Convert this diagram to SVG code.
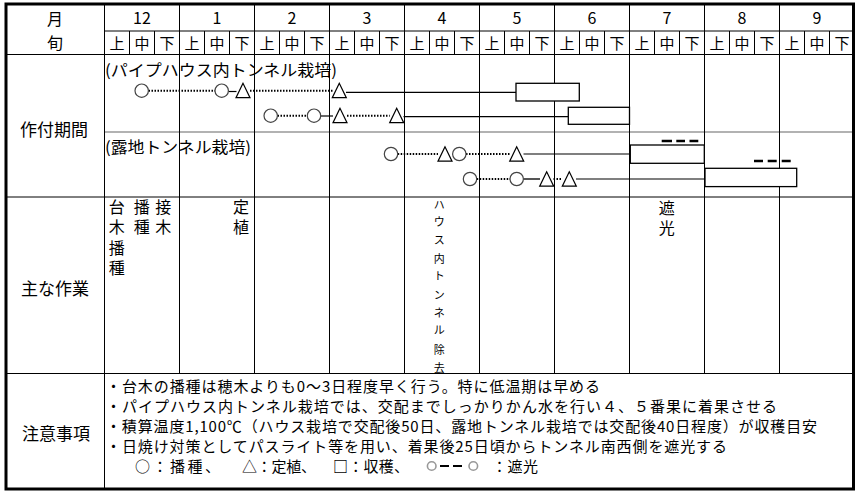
<svg xmlns="http://www.w3.org/2000/svg" width="863" height="498" viewBox="0 0 863 498">
<style>
text{font-family:"Noto Sans CJK JP","Noto Sans CJK SC",sans-serif;fill:#000}
.g{stroke:#000;stroke-width:1;fill:none}
.gray{stroke:#999;stroke-width:1.5;fill:none}
.ln{stroke:#000;stroke-width:1.2;fill:none}
.dot{stroke:#000;stroke-width:2;stroke-dasharray:1.5 1.5;fill:none}
.thk{stroke:#555;stroke-width:2;fill:none}
.cir{stroke:#444;stroke-width:1.2;fill:#fff}
.tri{stroke:#000;stroke-width:1.2;fill:#fff;stroke-linejoin:miter}
.box{stroke:#000;stroke-width:1.3;fill:#fff}
.shade{stroke:#000;stroke-width:2.5}
.hd{font-size:16px}
.dk{font-size:15px}
.lab{font-size:17px}
.wk{font-size:16px}
.sm{font-size:11px}
.nt{font-size:15px}
</style>

<g id="grid">
<rect x="6" y="4" width="847.5" height="485" fill="#fff" stroke="none"/>
<line class="g" x1="104.5" y1="31" x2="854" y2="31"/>
<line class="g" x1="6" y1="54.5" x2="854" y2="54.5"/>
<line class="gray" x1="104.5" y1="132" x2="854" y2="132"/>
<line class="g" x1="6" y1="197" x2="854" y2="197"/>
<line class="g" x1="6" y1="373.5" x2="854" y2="373.5"/>
<line class="g" x1="104.5" y1="4" x2="104.5" y2="489"/>
<path class="g" d="M179.5 4V373.5M254.5 4V373.5M329.5 4V373.5M404.5 4V373.5M479.5 4V373.5M554.5 4V373.5M629.5 4V373.5M704.5 4V373.5M779.5 4V373.5"/>
<path class="g" d="M129.5 31V54.5M154.5 31V54.5M204.5 31V54.5M229.5 31V54.5M279.5 31V54.5M304.5 31V54.5M354.5 31V54.5M379.5 31V54.5M429.5 31V54.5M454.5 31V54.5M504.5 31V54.5M529.5 31V54.5M579.5 31V54.5M604.5 31V54.5M654.5 31V54.5M679.5 31V54.5M729.5 31V54.5M754.5 31V54.5M804.5 31V54.5M829.5 31V54.5"/>
<rect x="6" y="4" width="847.5" height="485" fill="none" stroke="#000" stroke-width="3"/>
</g>

<g id="header">
<text class="hd" x="55" y="25" text-anchor="middle">月</text>
<text class="hd" x="55" y="48.5" text-anchor="middle">旬</text>
<text class="hd" text-anchor="middle" y="24">
<tspan x="142">12</tspan><tspan x="217">1</tspan><tspan x="292">2</tspan><tspan x="367">3</tspan><tspan x="442">4</tspan><tspan x="517">5</tspan><tspan x="592">6</tspan><tspan x="667">7</tspan><tspan x="742">8</tspan><tspan x="817">9</tspan>
</text>
<text class="dk" text-anchor="middle" y="48.7" x="117 142 167 192 217 242 267 292 317 342 367 392 417 442 467 492 517 542 567 592 617 642 667 692 717 742 767 792 817 842">上中下上中下上中下上中下上中下上中下上中下上中下上中下上中下</text>
</g>

<g id="labels">
<text class="lab" x="54" y="135.5" text-anchor="middle">作付期間</text>
<text class="lab" x="55" y="295" text-anchor="middle">主な作業</text>
<text class="lab" x="56" y="439.5" text-anchor="middle">注意事項</text>
</g>

<g id="section-titles">
<text class="wk" x="105" y="76" textLength="232" lengthAdjust="spacingAndGlyphs">(パイプハウス内トンネル栽培)</text>
<text class="wk" x="105" y="152.7" textLength="146" lengthAdjust="spacingAndGlyphs">(露地トンネル栽培)</text>
</g>

<g id="connectors">
<line class="dot" x1="148.5" y1="90.7" x2="215" y2="90.7"/>
<line class="ln" x1="228.4" y1="91.5" x2="236.5" y2="91.5"/>
<line class="dot" x1="250" y1="90.7" x2="332.5" y2="90.7"/>
<line class="ln" x1="346" y1="92.3" x2="516" y2="92.3"/>

<line class="dot" x1="277.5" y1="115.7" x2="307.3" y2="115.7"/>
<line class="ln" x1="320.7" y1="116" x2="333" y2="116"/>
<line class="dot" x1="347" y1="115.7" x2="389.7" y2="115.7"/>
<line class="ln" x1="403.5" y1="116.7" x2="568" y2="116.7"/>

<line class="dot" x1="397.7" y1="154" x2="438" y2="154"/>
<line class="dot" x1="466" y1="154" x2="509.7" y2="154"/>
<line class="ln" x1="523.5" y1="154" x2="630" y2="154"/>

<line class="dot" x1="476.7" y1="179" x2="510" y2="179"/>
<line class="thk" x1="523.4" y1="179" x2="540" y2="179"/>
<line class="dot" x1="553.5" y1="179" x2="562.3" y2="179"/>
<line class="ln" x1="576" y1="179" x2="705" y2="179"/>
</g>

<g id="row-house-1">
<circle class="cir" cx="141.7" cy="90.7" r="6.7"/>
<circle class="cir" cx="221.7" cy="90.7" r="6.7"/>
<polygon class="tri" points="243,83.3 236,97.7 250,97.7"/>
<polygon class="tri" points="339.3,83.3 332.3,97.7 346.3,97.7"/>
<rect class="box" x="516" y="83.3" width="63.3" height="17.7"/>
</g>

<g id="row-house-2">
<circle class="cir" cx="270.7" cy="115.7" r="6.7"/>
<circle class="cir" cx="314" cy="115.7" r="6.7"/>
<polygon class="tri" points="340,108.3 333,122.7 347,122.7"/>
<polygon class="tri" points="396.7,108.3 389.7,122.7 403.7,122.7"/>
<rect class="box" x="568.3" y="107.3" width="61.2" height="17"/>
</g>

<g id="row-field-1">
<circle class="cir" cx="391" cy="154" r="6.7"/>
<polygon class="tri" points="445,146.8 438,161.2 452,161.2"/>
<circle class="cir" cx="459.3" cy="154" r="6.7"/>
<polygon class="tri" points="516.7,146.8 509.7,161.2 523.7,161.2"/>
<rect class="box" x="630.3" y="145" width="74" height="18.3"/>
<path class="shade" d="M661.7 141H672M676.3 141H685M689.5 141H698.3"/>
</g>

<g id="row-field-2">
<circle class="cir" cx="470" cy="179" r="6.7"/>
<circle class="cir" cx="516.7" cy="179" r="6.7"/>
<polygon class="tri" points="546.7,171.8 539.7,186.2 553.7,186.2"/>
<polygon class="tri" points="569.3,171.8 562.3,186.2 576.3,186.2"/>
<rect class="box" x="705" y="168.3" width="91.7" height="18.3"/>
<path class="shade" d="M754 161H763M767.7 161H776.7M781.7 161H790.7"/>
</g>

<g id="main-work">
<text class="wk" text-anchor="middle" x="116.7 116.7 116.7 116.7" y="213 233 253.5 274">台木播種</text>
<text class="wk" text-anchor="middle" x="141.7 141.7" y="213 233">播種</text>
<text class="wk" text-anchor="middle" x="163.3 163.3" y="213 233">接木</text>
<text class="wk" text-anchor="middle" x="241 241" y="213 233">定植</text>
<text class="sm" text-anchor="middle" x="439.3 439.3 439.3 439.3 439.3 439.3 439.3 439.3 439.3 439.3" y="209.2 225.9 244.2 262.5 280.2 298.5 316.9 334.2 353.5 372.3">ハウス内トンネル除去</text>
<text class="wk" text-anchor="middle" x="666.7 666.7" y="213.5 233.5">遮光</text>
</g>

<g id="notes">
<text class="nt" x="106" y="391.5" textLength="494" lengthAdjust="spacing">・台木の播種は穂木よりも0～3日程度早く行う。特に低温期は早める</text>
<text class="nt" x="106" y="411.5" textLength="671" lengthAdjust="spacing">・パイプハウス内トンネル栽培では、交配までしっかりかん水を行い４、５番果に着果させる</text>
<text class="nt" x="106" y="431.5" textLength="711" lengthAdjust="spacing">・積算温度1,100℃（ハウス栽培で交配後50日、露地トンネル栽培では交配後40日程度）が収穫目安</text>
<text class="nt" x="106" y="452" textLength="621" lengthAdjust="spacing">・日焼け対策としてパスライト等を用い、着果後25日頃からトンネル南西側を遮光する</text>
</g>

<g id="legend">
<text class="nt" x="135" y="472" textLength="85" lengthAdjust="spacing">○：播種、</text>
<text class="nt" x="242" y="472" textLength="74" lengthAdjust="spacing">△：定植、</text>
<text class="nt" x="333" y="472" textLength="76" lengthAdjust="spacing" font-weight="bold">□<tspan font-weight="normal">：収穫、</tspan></text>
<circle cx="431.7" cy="466" r="4.3" fill="#fff" stroke="#999" stroke-width="1.6"/>
<path d="M440 466H449M453 466H462" stroke="#000" stroke-width="2.2"/>
<circle cx="473.3" cy="466" r="4.3" fill="#fff" stroke="#999" stroke-width="1.6"/>
<text class="nt" x="492" y="472" textLength="46" lengthAdjust="spacing">：遮光</text>
</g>
</svg>
